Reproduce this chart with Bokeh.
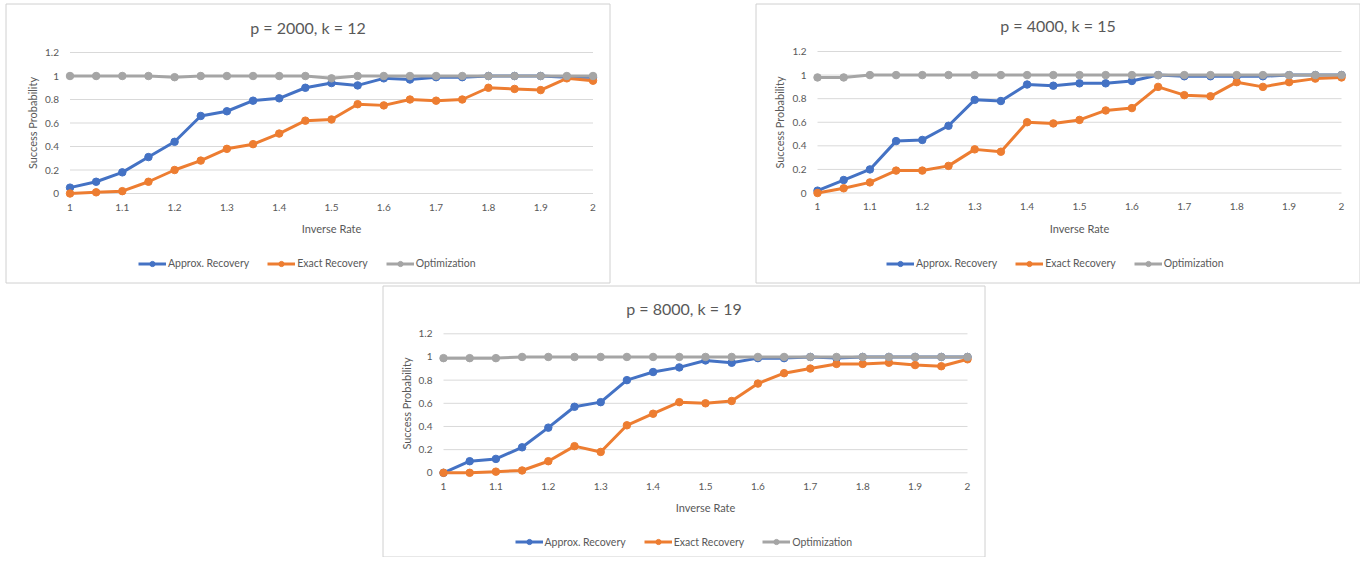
import math
from bokeh.plotting import figure
from bokeh.models import (Range1d, FixedTicker, Legend, LegendItem, LinearAxis, Label)
from bokeh.embed import file_html
from bokeh.resources import INLINE

# ---------------- data ----------------
inverse_rate = [1.0, 1.05, 1.1, 1.15, 1.2, 1.25, 1.3, 1.35, 1.4, 1.45, 1.5,
                1.55, 1.6, 1.65, 1.7, 1.75, 1.8, 1.85, 1.9, 1.95, 2.0]
x_ticks = [1.0, 1.1, 1.2, 1.3, 1.4, 1.5, 1.6, 1.7, 1.8, 1.9, 2.0]
x_tick_labels = ["1", "1.1", "1.2", "1.3", "1.4", "1.5", "1.6", "1.7", "1.8", "1.9", "2"]
y_ticks = [0.0, 0.2, 0.4, 0.6, 0.8, 1.0, 1.2]
y_tick_labels = ["0", "0.2", "0.4", "0.6", "0.8", "1", "1.2"]

series_names = ["Approx. Recovery", "Exact Recovery", "Optimization"]
titles = ["p = 2000, k = 12", "p = 4000, k = 15", "p = 8000, k = 19"]
x_title = "Inverse Rate"
y_title = "Success Probability"

approx_2000 = [0.05, 0.10, 0.18, 0.31, 0.44, 0.66, 0.70, 0.79, 0.81, 0.90, 0.94,
               0.92, 0.98, 0.97, 0.99, 0.99, 1.0, 1.0, 1.0, 0.99, 0.99]
exact_2000 = [0.0, 0.01, 0.02, 0.10, 0.20, 0.28, 0.38, 0.42, 0.51, 0.62, 0.63,
              0.76, 0.75, 0.80, 0.79, 0.80, 0.90, 0.89, 0.88, 0.98, 0.96]
optim_2000 = [1.0, 1.0, 1.0, 1.0, 0.99, 1.0, 1.0, 1.0, 1.0, 1.0, 0.98,
              1.0, 1.0, 1.0, 1.0, 1.0, 1.0, 1.0, 1.0, 1.0, 1.0]

approx_4000 = [0.02, 0.11, 0.20, 0.44, 0.45, 0.57, 0.79, 0.78, 0.92, 0.91, 0.93,
               0.93, 0.95, 1.0, 0.99, 0.99, 0.99, 0.99, 1.0, 1.0, 1.0]
exact_4000 = [0.0, 0.04, 0.09, 0.19, 0.19, 0.23, 0.37, 0.35, 0.60, 0.59, 0.62,
              0.70, 0.72, 0.90, 0.83, 0.82, 0.94, 0.90, 0.94, 0.97, 0.98]
optim_4000 = [0.98, 0.98, 1.0, 1.0, 1.0, 1.0, 1.0, 1.0, 1.0, 1.0, 1.0,
              1.0, 1.0, 1.0, 1.0, 1.0, 1.0, 1.0, 1.0, 1.0, 1.0]

approx_8000 = [0.0, 0.10, 0.12, 0.22, 0.39, 0.57, 0.61, 0.80, 0.87, 0.91, 0.97,
               0.95, 0.99, 0.99, 1.0, 0.99, 1.0, 1.0, 1.0, 1.0, 1.0]
exact_8000 = [0.0, 0.0, 0.01, 0.02, 0.10, 0.23, 0.18, 0.41, 0.51, 0.61, 0.60,
              0.62, 0.77, 0.86, 0.90, 0.94, 0.94, 0.95, 0.93, 0.92, 0.98]
optim_8000 = [0.99, 0.99, 0.99, 1.0, 1.0, 1.0, 1.0, 1.0, 1.0, 1.0, 1.0,
              1.0, 1.0, 1.0, 1.0, 1.0, 1.0, 1.0, 1.0, 1.0, 1.0]

# ---------------- styles / layout (pixel positions on the page) ----------------
colors = ["#4472C4", "#ED7D31", "#A5A5A5"]
FONT = "Lato"
TXT = "#595959"
GRID = "#d9d9d9"
BOX = "#d0d0d0"
W, H = 1360, 557

# per panel: box (l, t, r, b), px of x=1, px of x=2, py of y=0, py of y=1.2,
# title centre, x-title centre, y-title centre, legend left, legend middle y
panels = [
    dict(box=(5, 3, 610, 283), x1=69.5, x2=592.5, y0=193.0, y12=52.0,
         title=(307.5, 27), xt=(331, 228), yt=(32, 122.5), leg=(138, 263)),
    dict(box=(755, 3, 1360, 283), x1=817.0, x2=1341.0, y0=192.5, y12=51.0,
         title=(1057.5, 25), xt=(1079, 228), yt=(779, 122), leg=(886, 263)),
    dict(box=(382, 285, 985, 557), x1=443.0, x2=967.0, y0=472.3, y12=333.3,
         title=(683.5, 308), xt=(705, 507), yt=(405.5, 403), leg=(514.5, 541.5)),
]
panel_series = [
    [approx_2000, exact_2000, optim_2000],
    [approx_4000, exact_4000, optim_4000],
    [approx_8000, exact_8000, optim_8000],
]

p = figure(width=W, height=H, output_backend="svg", toolbar_location=None,
           x_range=Range1d(0, W), y_range=Range1d(H, 0),
           x_axis_location=None, y_axis_location=None,
           min_border_left=0, min_border_right=0, min_border_top=0, min_border_bottom=0)
p.outline_line_color = None
p.background_fill_color = "white"
p.border_fill_color = "white"
for g in p.grid:
    g.visible = False

# chart boxes
p.quad(left=[g["box"][0] + 0.5 for g in panels], right=[g["box"][2] - 0.5 for g in panels],
       top=[g["box"][1] + 0.5 for g in panels], bottom=[g["box"][3] - 0.5 for g in panels],
       fill_color=None, line_color=BOX, line_width=1)


def style_axis(ax, standoff):
    ax.axis_line_color = None
    ax.major_tick_line_color = None
    ax.minor_tick_line_color = None
    ax.major_tick_out = 0
    ax.major_tick_in = 0
    ax.major_label_standoff = standoff
    ax.major_label_text_font = FONT
    ax.major_label_text_font_size = "10px"
    ax.major_label_text_color = TXT


for k, (g, series) in enumerate(zip(panels, panel_series)):
    xr, yr = f"x{k}", f"y{k}"
    b = g["x2"] - g["x1"]
    s = (g["y0"] - g["y12"]) / 1.2
    p.extra_x_ranges[xr] = Range1d(1.0 - g["x1"] / b, 1.0 + (W - g["x1"]) / b)
    p.extra_y_ranges[yr] = Range1d((g["y0"] - H) / s, g["y0"] / s)

    # horizontal gridlines from x=1 to x=2 at the y ticks
    p.segment(x0=[x_ticks[0]] * len(y_ticks), x1=[x_ticks[-1]] * len(y_ticks),
              y0=y_ticks, y1=y_ticks, line_color=GRID, line_width=1,
              x_range_name=xr, y_range_name=yr)

    xa = LinearAxis(x_range_name=xr, y_range_name=yr, fixed_location=0.0,
                    ticker=FixedTicker(ticks=x_ticks),
                    major_label_overrides=dict(zip(x_ticks, x_tick_labels)),
                    bounds=(x_ticks[0], x_ticks[-1]))
    style_axis(xa, 10)
    p.add_layout(xa, "below")
    ya = LinearAxis(x_range_name=xr, y_range_name=yr, fixed_location=x_ticks[0],
                    ticker=FixedTicker(ticks=y_ticks),
                    major_label_overrides=dict(zip(y_ticks, y_tick_labels)),
                    bounds=(y_ticks[0], y_ticks[-1]))
    style_axis(ya, 11)
    p.add_layout(ya, "left")

    items = []
    for name, ys, c in zip(series_names, series, colors):
        lr = p.line(inverse_rate, ys, line_color=c, line_width=3,
                    x_range_name=xr, y_range_name=yr)
        sr = p.scatter(inverse_rate, ys, size=7.5, fill_color=c, line_color=c,
                       x_range_name=xr, y_range_name=yr)
        items.append(LegendItem(label=name, renderers=[lr, sr]))
    leg = Legend(items=items, orientation="horizontal",
                 location=(g["leg"][0], H - g["leg"][1] - 6.5),
                 label_text_font=FONT, label_text_font_size="10.5px", label_text_color=TXT,
                 glyph_width=28, glyph_height=13, label_standoff=2, spacing=18,
                 label_height=13, border_line_color=None, background_fill_alpha=0,
                 padding=0, margin=0)
    p.add_layout(leg)

    p.add_layout(Label(x=g["title"][0], y=g["title"][1], text=titles[k],
                       text_align="center", text_baseline="middle",
                       text_font=FONT, text_font_size="16px", text_color=TXT))
    p.add_layout(Label(x=g["xt"][0], y=g["xt"][1], text=x_title,
                       text_align="center", text_baseline="middle",
                       text_font=FONT, text_font_size="11px", text_color=TXT))
    p.add_layout(Label(x=g["yt"][0], y=g["yt"][1], text=y_title, angle=math.pi / 2,
                       text_align="center", text_baseline="middle",
                       text_font=FONT, text_font_size="11px", text_color=TXT))

open("out.html", "w").write(file_html(p, INLINE))
